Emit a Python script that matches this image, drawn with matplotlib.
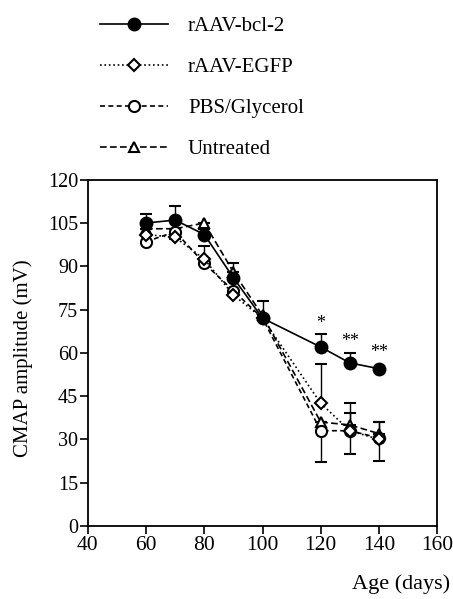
import matplotlib
matplotlib.use("Agg")
from matplotlib import pyplot as plt
from matplotlib.lines import Line2D

plt.rcParams['font.family'] = ['Liberation Serif', 'DejaVu Serif']

# age in days
days = [60, 70, 80, 90, 100, 120, 130, 140]

# CMAP amplitude (mV) per group
bcl2 = [105, 106, 101, 86, 72, 62, 56.5, 54.5]
egfp = [101, 100, 92.5, 80, 72, 42.5, 33, 30]
pbs = [98.5, 102, 91, 81.5, 72, 33, 33, 30.5]
untreated = [103, 103, 105, 88, 73, 36, 35, 32]

# error bars (lower, upper), only the visible halves
bcl2_err = [[0, 0, 0, 0, 0, 0, 0, 0], [3, 5, 2, 5, 6, 4.5, 3.5, 0]]
egfp_err = [[0, 0, 0, 0, 0, 0, 0, 0], [0, 0, 0, 0, 0, 13.5, 9.5, 6]]
pbs_err = [[0, 2.5, 0, 0, 0, 11, 8, 8], [0, 0, 6, 0, 0, 0, 0, 0]]
untreated_err = [[0, 0, 0, 0, 0, 0, 0, 0], [0, 0, 0, 0, 0, 0, 4, 4]]

labels = ['rAAV-bcl-2', 'rAAV-EGFP', 'PBS/Glycerol', 'Untreated']

stars = ['*', '**', '**']
star_days = [120, 130, 140]
star_y = [70, 64, 60]

styles = {
    'Untreated': dict(ls=(0, (4, 2)), marker='^', ms=7, mfc='white'),
    'PBS/Glycerol': dict(ls=(0, (3, 2)), marker='o', ms=8, mfc='white'),
    'rAAV-EGFP': dict(ls=':', marker='D', ms=6, mfc='white'),
    'rAAV-bcl-2': dict(ls='-', marker='o', ms=8.5, mfc='black'),
}

fig = plt.figure(figsize=(4.53, 5.99), dpi=100)
ax = fig.add_axes([0.194, 0.122, 0.771, 0.578])

kw = dict(color='black', capsize=4, elinewidth=1, capthick=1, lw=1.2,
          mec='black', mew=1.5)
ax.errorbar(days, untreated, yerr=untreated_err, **styles['Untreated'], **kw)
ax.errorbar(days, pbs, yerr=pbs_err, **styles['PBS/Glycerol'], **kw)
ax.errorbar(days, egfp, yerr=egfp_err, **styles['rAAV-EGFP'], **kw)
ax.errorbar(days, bcl2, yerr=bcl2_err, **styles['rAAV-bcl-2'], **kw)

for d, y, s in zip(star_days, star_y, stars):
    ax.text(d, y, s, ha='center', va='center', fontsize=13)

ax.set_xlim(40, 160)
ax.set_ylim(0, 120)
ax.set_xticks(range(40, 161, 20))
ax.set_yticks(range(0, 121, 15))
ax.tick_params(direction='out', length=6, width=1.2)
ax.tick_params(axis='x', labelsize=15.5, pad=1)
ax.tick_params(axis='y', labelsize=14.5, pad=1)
for sp in ax.spines.values():
    sp.set_linewidth(1.3)
ax.set_ylabel('CMAP amplitude (mV)', fontsize=15)
ax.yaxis.set_label_coords(-0.158, 0.485)
ax.set_xlabel('Age (days)', fontsize=16, ha='right', va='center')
ax.xaxis.set_label_coords(1.038, -0.168)

handles = [Line2D([], [], color='black', lw=1.2, mec='black', mew=1.5, **styles[l])
           for l in labels]
fig.legend(handles, labels, loc='upper left', bbox_to_anchor=(0.179, 1.004),
           frameon=False, fontsize=15, handlelength=3.27, handletextpad=0.96,
           labelspacing=1.03)

fig.savefig('out.png', dpi=100)
